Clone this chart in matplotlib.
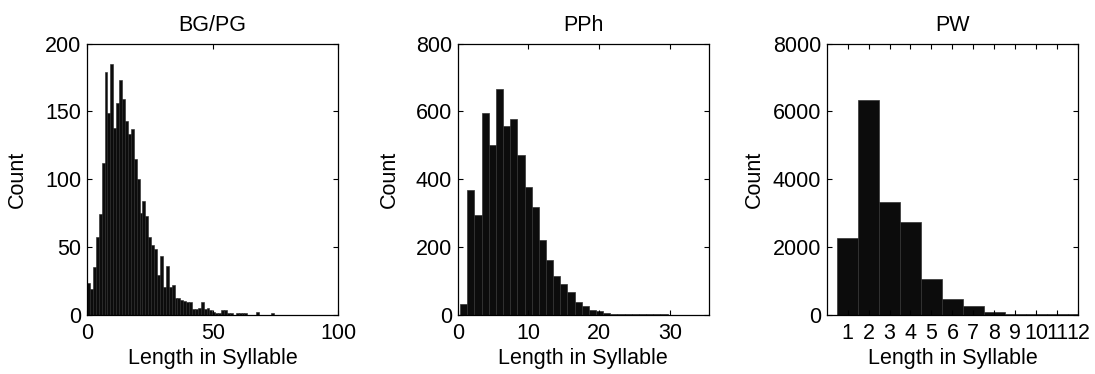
import numpy as np
import matplotlib
matplotlib.use("Agg")
import matplotlib.pyplot as plt

plt.rcParams['font.family'] = ['Liberation Sans', 'DejaVu Sans']
plt.rcParams['font.size'] = 15.5

# BG/PG histogram (bin width ~1.16 syllables, starting at 0)
bg_width = 1.16
bg_counts = [23, 19, 35, 57, 74, 112, 179, 149, 185, 138, 156, 173, 159, 143,
             133, 137, 115, 100, 75, 84, 73, 57, 51, 48, 29, 43, 20, 36, 20, 22,
             12, 12, 11, 10, 9, 9, 4, 4, 5, 9, 4, 5, 3, 2, 1, 1, 3, 3, 1, 1,
             0, 1, 1, 1, 1, 0, 0, 0, 2, 0, 0, 0, 0, 1, 0, 0]

# PPh histogram (bin width ~1.01, first edge at 0.35)
pph_width = 1.01
pph_start = 0.35
pph_counts = [32, 367, 293, 595, 501, 666, 556, 577, 471, 377, 318, 219, 161,
              114, 89, 66, 37, 24, 14, 10, 6, 3, 3, 2, 2, 1, 1, 1, 1]

# PW histogram (one bar per syllable count)
pw_lengths = [1, 2, 3, 4, 5, 6, 7, 8, 9, 10, 11, 12]
pw_counts = [2250, 6325, 3310, 2720, 1060, 460, 250, 80, 30, 25, 20, 15]

titles = ['BG/PG', 'PPh', 'PW']
fs = 15.5

fig = plt.figure(figsize=(10.95, 3.74), dpi=100)
bottom, height = 0.159, 0.7246
lefts = [0.0795, 0.418, 0.755]
width = 0.2295
axes = [fig.add_axes([l, bottom, width, height]) for l in lefts]

face = '#0c0c0c'

# panel 1
ax = axes[0]
bg_left = np.arange(len(bg_counts)) * bg_width
ax.bar(bg_left, bg_counts, width=bg_width, align='edge', color=face,
       edgecolor='#262626', linewidth=0.4)
ax.set_xlim(0, 100)
ax.set_ylim(0, 200)
ax.set_xticks([0, 50, 100])
ax.set_yticks([0, 50, 100, 150, 200])

# panel 2
ax = axes[1]
pph_left = pph_start + np.arange(len(pph_counts)) * pph_width
ax.bar(pph_left, pph_counts, width=pph_width, align='edge', color=face,
       edgecolor='#333333', linewidth=0.5)
ax.set_xlim(0, 35.5)
ax.set_ylim(0, 800)
ax.set_xticks([0, 10, 20, 30])
ax.set_yticks([0, 200, 400, 600, 800])

# panel 3
ax = axes[2]
ax.bar(pw_lengths, pw_counts, width=1.0, color=face, edgecolor='#333333',
       linewidth=0.5)
ax.set_xlim(0, 12)
ax.set_ylim(0, 8000)
ax.set_xticks(pw_lengths)
ax.set_yticks([0, 2000, 4000, 6000, 8000])

ylab_x = [-0.236, -0.23, -0.246]
for ax, t, yx in zip(axes, titles, ylab_x):
    ax.set_title(t, fontsize=fs, pad=9)
    ax.set_xlabel('Length in Syllable', fontsize=fs)
    ax.set_ylabel('Count', fontsize=fs)
    ax.yaxis.set_label_coords(yx, 0.5)
    ax.xaxis.set_label_coords(0.5, -0.125)
    ax.tick_params(direction='in', top=True, right=True, length=3.5,
                   width=0.8, labelsize=fs)
    ax.tick_params(axis='x', pad=6)
    ax.tick_params(axis='y', pad=4)
    for s in ax.spines.values():
        s.set_linewidth(0.9)

fig.savefig('out.png', dpi=100)
